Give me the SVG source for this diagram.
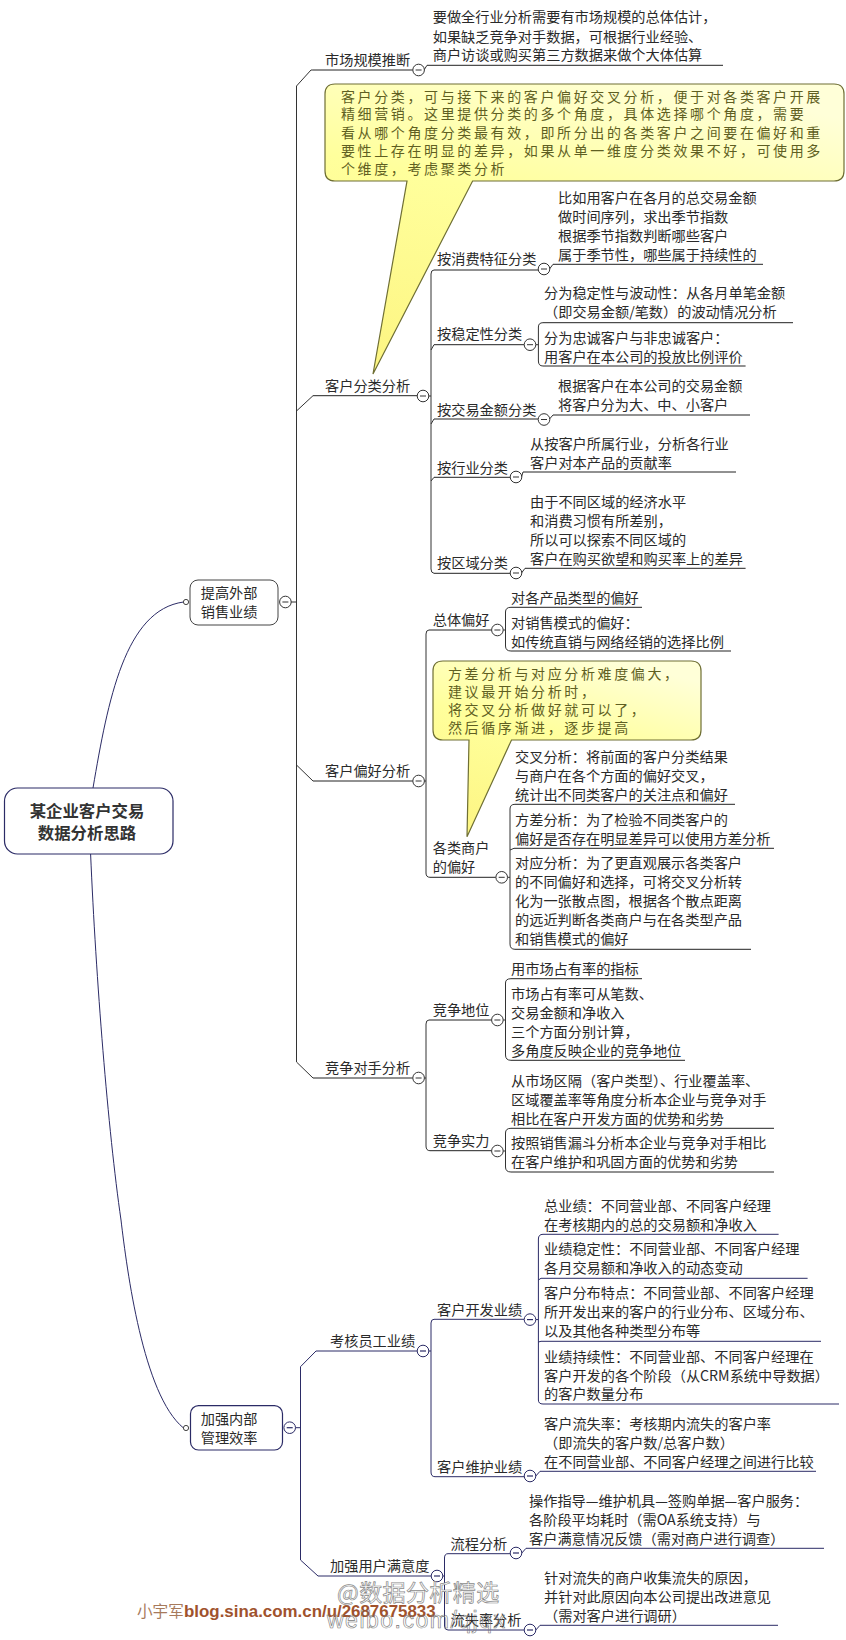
<svg xmlns="http://www.w3.org/2000/svg" width="846" height="1640" viewBox="0 0 846 1640">
<style>
text{font-family:"Noto Sans CJK SC","Liberation Sans",sans-serif;font-size:14.2px;fill:#2a2a2a}
.root{font-size:16.4px;font-weight:700;fill:#333;text-anchor:middle}
.note{font-size:14px;fill:#5f5f22;letter-spacing:2.62px}
.u{stroke:#222;stroke-width:1;fill:none}
.n{stroke:#2b2b66;stroke-width:1;fill:none}
.l{stroke:#333;stroke-width:1;fill:none}
.box{fill:#fff;stroke:#444;stroke-width:1}
.boxn{fill:#fff;stroke:#2b2b66;stroke-width:1.2}
.call{fill:url(#yel);stroke:#6f6f34;stroke-width:1.2}
.blog{font-family:"Liberation Sans",sans-serif;font-size:16.9px;font-weight:700;fill:#a0522d}
.blogc{font-size:15.6px;fill:#a77a5c}
.wm{font-size:23px;fill:#fff;stroke:#8a8a8a;stroke-width:.7;letter-spacing:.4px}
.wm2{font-family:"Liberation Sans",sans-serif;font-size:23px;fill:none;stroke:#777;stroke-width:.6;letter-spacing:1.5px}
</style>
<defs>
<linearGradient id="yel" x1="0.7" y1="0" x2="0.3" y2="1"><stop offset="0" stop-color="#ffffd8"/><stop offset="0.45" stop-color="#ffff9c"/><stop offset="1" stop-color="#fdf684"/></linearGradient>
<g id="c"><circle r="5.8" fill="#fff" stroke="#333" stroke-width="1"/><line x1="-3" x2="3" stroke="#333" stroke-width="1"/></g>
<g id="cn"><circle r="5.8" fill="#fff" stroke="#2b2b66" stroke-width="1"/><line x1="-3" x2="3" stroke="#2b2b66" stroke-width="1.2"/></g>
<g id="d"><circle r="2.6" fill="#fff" stroke="#444" stroke-width="1"/></g>
</defs>
<g id="connectors">
<path class="n" d="M93 788C108 700 125 610 183.500 602"/>
<path class="n" d="M90.600 854C96 980 108 1130 121 1220C127 1270 143 1395 183.500 1428"/>
<path class="l" d="M313 70H311L296.500 86V1062L313 1078"/>
<path class="l" d="M313 395.700L296.500 411"/>
<path class="l" d="M296.500 765L313 781"/>
<path class="l" d="M291 602H296.500"/>
<path class="l" d="M429 396H431M431 274Q431 270 434 270M431 274V569Q431 573 434 573.300"/>
<path class="l" d="M431 350L434 344.700M431 424L434 419M431 481L434 477.300"/>
<path class="l" d="M424 70L427 65.300M549.500 269L553 264.300M549.500 419L553 415M521.500 477L523 472M521.500 573L525 568.300"/>
<path class="l" d="M535.800 344.700H538.400M543 322.700Q538.400 322.700 538.400 327V361Q538.400 366 543 366"/>
<path class="l" d="M424.400 781H426M426 634Q426 630 429 630M426 634V873Q426 877.300 430 877.300"/>
<path class="l" d="M503.200 630H505.500M511 607.300Q505.500 607.300 505.500 612V646Q505.500 651 511 651"/>
<path class="l" d="M507.500 877.300H510M515 804.300Q510 804.300 510 809V944Q510 949.300 515 949.300M510 850L514 848.300"/>
<path class="l" d="M424.400 1078H426M426 1024Q426 1020 429 1020M426 1024V1146Q426 1150.700 430 1150.700"/>
<path class="l" d="M503.200 1020H505.500M511 978.700Q505.500 978.700 505.500 983V1055Q505.500 1060.300 511 1060.300"/>
<path class="l" d="M503.200 1151H505.500M511 1128.300Q505.500 1128.300 505.500 1133V1167Q505.500 1172 511 1172"/>
<path class="n" d="M295.500 1427.700H300.500M318 1351H316L300.500 1366.700V1560L318 1576"/>
<path class="n" d="M428.800 1351H431M434 1319.300Q431 1319.300 431 1323V1472Q431 1476.700 435 1476.700"/>
<path class="n" d="M535.800 1319.600H538.400M543 1234.300Q538.400 1234.300 538.400 1239V1400Q538.400 1404 543 1404M538.400 1342L541 1341.300M538.400 1280L541 1278.300"/>
<path class="n" d="M535.800 1476L540 1471.300"/>
<path class="n" d="M442.800 1576H444.500M448 1553.700Q444.500 1553.700 444.500 1558V1626Q444.500 1630 448 1630"/>
<path class="n" d="M521.800 1553L526 1548.300M535.800 1630L540 1625.300"/>
</g>
<g id="root"><rect class="boxn" x="4.500" y="788" width="168.500" height="66" rx="13"/><text class="root" x="87" y="816.500">某企业客户交易</text><text class="root" x="87" y="838.500">数据分析思路</text></g>
<g id="n-sales"><rect class="box" x="190" y="580" width="88" height="45" rx="8"/><text x="200.700" y="598">提高外部</text><text x="200.700" y="617">销售业绩</text><use href="#c" x="285.400" y="602"/><use href="#d" x="186" y="602"/></g>
<g id="n-market"><text x="325" y="65">市场规模推断</text><line class="u" x1="313" y1="70" x2="412.800" y2="70"/><use href="#c" x="418.600" y="70"/></g>
<g id="d-market"><text x="432.700" y="22">要做全行业分析需要有市场规模的总体估计，</text><text x="432.700" y="41.500">如果缺乏竞争对手数据，可根据行业经验、</text><text x="432.700" y="60.300">商户访谈或购买第三方数据来做个大体估算</text><line class="u" x1="427" y1="65.300" x2="723" y2="65.300"/></g>
<g id="n-class"><text x="325" y="391">客户分类分析</text><line class="u" x1="313" y1="395.700" x2="417" y2="395.700"/><use href="#c" x="423" y="396"/></g>
<g id="n-c1"><text x="437" y="264">按消费特征分类</text><line class="u" x1="434" y1="270" x2="538" y2="270"/><use href="#c" x="544" y="269"/></g>
<g id="d-c1"><text x="558" y="202.700">比如用客户在各月的总交易金额</text><text x="558" y="221.700">做时间序列，求出季节指数</text><text x="558" y="240.700">根据季节指数判断哪些客户</text><text x="558" y="259.700">属于季节性，哪些属于持续性的</text><line class="u" x1="553" y1="264.300" x2="763" y2="264.300"/></g>
<g id="n-c2"><text x="437" y="339">按稳定性分类</text><line class="u" x1="434" y1="344.700" x2="524.200" y2="344.700"/><use href="#c" x="530" y="344.700"/></g>
<g id="d-c2a"><text x="544" y="298.300">分为稳定性与波动性：从各月单笔金额</text><text x="544" y="317.300">（即交易金额/笔数）的波动情况分析</text><line class="u" x1="543" y1="322.700" x2="793" y2="322.700"/></g>
<g id="d-c2b"><text x="544" y="342.700">分为忠诚客户与非忠诚客户：</text><text x="544" y="361.700">用客户在本公司的投放比例评价</text><line class="u" x1="543" y1="366" x2="745.600" y2="366"/></g>
<g id="n-c3"><text x="437" y="415">按交易金额分类</text><line class="u" x1="434" y1="419" x2="538" y2="419"/><use href="#c" x="544" y="419.500"/></g>
<g id="d-c3"><text x="558" y="391">根据客户在本公司的交易金额</text><text x="558" y="410">将客户分为大、中、小客户</text><line class="u" x1="553" y1="415" x2="750" y2="415"/></g>
<g id="n-c4"><text x="437" y="472.700">按行业分类</text><line class="u" x1="434" y1="477.300" x2="510.200" y2="477.300"/><use href="#c" x="516" y="477"/></g>
<g id="d-c4"><text x="530" y="449">从按客户所属行业，分析各行业</text><text x="530" y="468">客户对本产品的贡献率</text><line class="u" x1="523" y1="472" x2="736" y2="472"/></g>
<g id="n-c5"><text x="437" y="568">按区域分类</text><line class="u" x1="434" y1="573.300" x2="510.200" y2="573.300"/><use href="#c" x="516" y="573"/></g>
<g id="d-c5"><text x="530" y="507">由于不同区域的经济水平</text><text x="530" y="525.700">和消费习惯有所差别，</text><text x="530" y="545">所以可以探索不同区域的</text><text x="530" y="564">客户在购买欲望和购买率上的差异</text><line class="u" x1="525" y1="568.300" x2="745.600" y2="568.300"/></g>
<g id="n-pref"><text x="325" y="776">客户偏好分析</text><line class="u" x1="313" y1="781" x2="412.800" y2="781"/><use href="#c" x="418.600" y="781"/></g>
<g id="n-p1"><text x="432.700" y="625">总体偏好</text><line class="u" x1="429" y1="630" x2="491.600" y2="630"/><use href="#c" x="497.400" y="630"/></g>
<g id="d-p1a"><text x="511" y="602.700">对各产品类型的偏好</text><line class="u" x1="511" y1="607.300" x2="642" y2="607.300"/></g>
<g id="d-p1b"><text x="511" y="627.700">对销售模式的偏好：</text><text x="511" y="646.700">如传统直销与网络经销的选择比例</text><line class="u" x1="511" y1="651" x2="731" y2="651"/></g>
<g id="n-p2"><text x="432.700" y="853.300">各类商户</text><text x="432.700" y="872.300">的偏好</text><line class="u" x1="430" y1="877.300" x2="495.900" y2="877.300"/><use href="#c" x="501.700" y="877.300"/></g>
<g id="d-p2a"><text x="515" y="761.700">交叉分析：将前面的客户分类结果</text><text x="515" y="780.700">与商户在各个方面的偏好交叉，</text><text x="515" y="799.700">统计出不同类客户的关注点和偏好</text><line class="u" x1="515" y1="804.300" x2="735" y2="804.300"/></g>
<g id="d-p2b"><text x="515" y="825">方差分析：为了检验不同类客户的</text><text x="515" y="844">偏好是否存在明显差异可以使用方差分析</text><line class="u" x1="514" y1="848.300" x2="774" y2="848.300"/></g>
<g id="d-p2c"><text x="515" y="868.300">对应分析：为了更直观展示各类客户</text><text x="515" y="887.300">的不同偏好和选择，可将交叉分析转</text><text x="515" y="906.300">化为一张散点图，根据各个散点距离</text><text x="515" y="925.300">的远近判断各类商户与在各类型产品</text><text x="515" y="944.300">和销售模式的偏好</text><line class="u" x1="515" y1="949.300" x2="751" y2="949.300"/></g>
<g id="n-comp"><text x="325" y="1073.300">竞争对手分析</text><line class="u" x1="313" y1="1078" x2="412.800" y2="1078"/><use href="#c" x="418.600" y="1078"/></g>
<g id="n-k1"><text x="432.700" y="1015">竞争地位</text><line class="u" x1="429" y1="1020" x2="491.600" y2="1020"/><use href="#c" x="497.400" y="1020"/></g>
<g id="d-k1a"><text x="511" y="974">用市场占有率的指标</text><line class="u" x1="511" y1="978.700" x2="642" y2="978.700"/></g>
<g id="d-k1b"><text x="511" y="998.700">市场占有率可从笔数、</text><text x="511" y="1017.700">交易金额和净收入</text><text x="511" y="1036.700">三个方面分别计算，</text><text x="511" y="1055.700">多角度反映企业的竞争地位</text><line class="u" x1="511" y1="1060.300" x2="685" y2="1060.300"/></g>
<g id="n-k2"><text x="432.700" y="1145.700">竞争实力</text><line class="u" x1="430" y1="1150.700" x2="491.600" y2="1150.700"/><use href="#c" x="497.400" y="1151"/></g>
<g id="d-k2a"><text x="511" y="1085.700">从市场区隔（客户类型）、行业覆盖率、</text><text x="511" y="1104.700">区域覆盖率等角度分析本企业与竞争对手</text><text x="511" y="1123.700">相比在客户开发方面的优势和劣势</text><line class="u" x1="511" y1="1128.300" x2="774" y2="1128.300"/></g>
<g id="d-k2b"><text x="511" y="1148.300">按照销售漏斗分析本企业与竞争对手相比</text><text x="511" y="1167.300">在客户维护和巩固方面的优势和劣势</text><line class="u" x1="511" y1="1172" x2="774" y2="1172"/></g>
<g id="n-mgmt"><rect class="boxn" x="190.500" y="1405.700" width="92" height="44.300" rx="8"/><text x="200.700" y="1424">加强内部</text><text x="200.700" y="1443">管理效率</text><use href="#cn" x="289.700" y="1427.700"/><use href="#d" x="186" y="1428"/></g>
<g id="n-m1"><text x="330" y="1346">考核员工业绩</text><line class="n" x1="318" y1="1351" x2="417" y2="1351"/><use href="#cn" x="423" y="1351"/></g>
<g id="n-m11"><text x="437" y="1314.700">客户开发业绩</text><line class="n" x1="434" y1="1319.300" x2="524.200" y2="1319.300"/><use href="#cn" x="530" y="1319.600"/></g>
<g id="d-m11a"><text x="544" y="1210.700">总业绩：不同营业部、不同客户经理</text><text x="544" y="1229.700">在考核期内的总的交易额和净收入</text><line class="n" x1="543" y1="1234.300" x2="778.600" y2="1234.300"/></g>
<g id="d-m11b"><text x="544" y="1254.300">业绩稳定性：不同营业部、不同客户经理</text><text x="544" y="1273.300">各月交易额和净收入的动态变动</text><line class="n" x1="541" y1="1278.300" x2="807.600" y2="1278.300"/></g>
<g id="d-m11c"><text x="544" y="1298.300">客户分布特点：不同营业部、不同客户经理</text><text x="544" y="1317.300">所开发出来的客户的行业分布、区域分布、</text><text x="544" y="1336.300">以及其他各种类型分布等</text><line class="n" x1="541" y1="1341.300" x2="821" y2="1341.300"/></g>
<g id="d-m11d"><text x="544" y="1361.700">业绩持续性：不同营业部、不同客户经理在</text><text x="544" y="1380.700">客户开发的各个阶段（从CRM系统中导数据）</text><text x="544" y="1399.300">的客户数量分布</text><line class="n" x1="543" y1="1404" x2="839" y2="1404"/></g>
<g id="n-m12"><text x="437" y="1471.700">客户维护业绩</text><line class="n" x1="435" y1="1476.700" x2="524.200" y2="1476.700"/><use href="#cn" x="530" y="1476"/></g>
<g id="d-m12"><text x="544" y="1429">客户流失率：考核期内流失的客户率</text><text x="544" y="1448.300">（即流失的客户数/总客户数）</text><text x="544" y="1467.300">在不同营业部、不同客户经理之间进行比较</text><line class="n" x1="540" y1="1471.300" x2="816" y2="1471.300"/></g>
<g id="n-m2"><text x="330" y="1570.700">加强用户满意度</text><line class="n" x1="318" y1="1576" x2="431.200" y2="1576"/><use href="#cn" x="437" y="1576"/></g>
<g id="n-m21"><text x="450.500" y="1548.700">流程分析</text><line class="n" x1="448" y1="1553.700" x2="510.200" y2="1553.700"/><use href="#cn" x="516" y="1553"/></g>
<g id="d-m21"><text x="529" y="1506">操作指导—维护机具—签购单据—客户服务：</text><text x="529" y="1525">各阶段平均耗时（需OA系统支持）与</text><text x="529" y="1544">客户满意情况反馈（需对商户进行调查）</text><line class="n" x1="526" y1="1548.300" x2="824" y2="1548.300"/></g>
<g id="n-m22"><text x="450.500" y="1625">流失率分析</text><line class="n" x1="448" y1="1630" x2="524.200" y2="1630"/><use href="#cn" x="530" y="1630"/></g>
<g id="d-m22"><text x="544" y="1582.700">针对流失的商户收集流失的原因，</text><text x="544" y="1601.700">并针对此原因向本公司提出改进意见</text><text x="544" y="1621">（需对客户进行调研）</text><line class="n" x1="540" y1="1625.300" x2="778" y2="1625.300"/></g>
<g id="note-1"><path class="call" d="M335 84H834Q844 84 844 94V171Q844 181 834 181H472.600L373 374L407 181H335Q325 181 325 171V94Q325 84 335 84Z"/><text class="note" x="341" y="101.700">客户分类，可与接下来的客户偏好交叉分析，便于对各类客户开展</text><text class="note" x="341" y="119.300">精细营销。这里提供分类的多个角度，具体选择哪个角度，需要</text><text class="note" x="341" y="137.700">看从哪个角度分类最有效，即所分出的各类客户之间要在偏好和重</text><text class="note" x="341" y="155.700">要性上存在明显的差异，如果从单一维度分类效果不好，可使用多</text><text class="note" x="341" y="174">个维度，考虑聚类分析</text></g>
<g id="note-2"><path class="call" d="M443 661H691Q701 661 701 671V730Q701 740 691 740H511.500L467 836.700L469 740H443Q433 740 433 730V671Q433 661 443 661Z"/><text class="note" x="448" y="679">方差分析与对应分析难度偏大，</text><text class="note" x="448" y="696.700">建议最开始分析时，</text><text class="note" x="448" y="714.700">将交叉分析做好就可以了，</text><text class="note" x="448" y="732.700">然后循序渐进，逐步提高</text></g>
<g id="watermark"><text class="blogc" x="137" y="1616.500">小宇军</text><text class="blog" x="184" y="1616.500">blog.sina.com.cn/u/2687675833</text><text class="wm" x="337" y="1601">@数据分析精选</text><text class="wm2" x="327" y="1628">weibo.com/qjqx</text></g>
</svg>
